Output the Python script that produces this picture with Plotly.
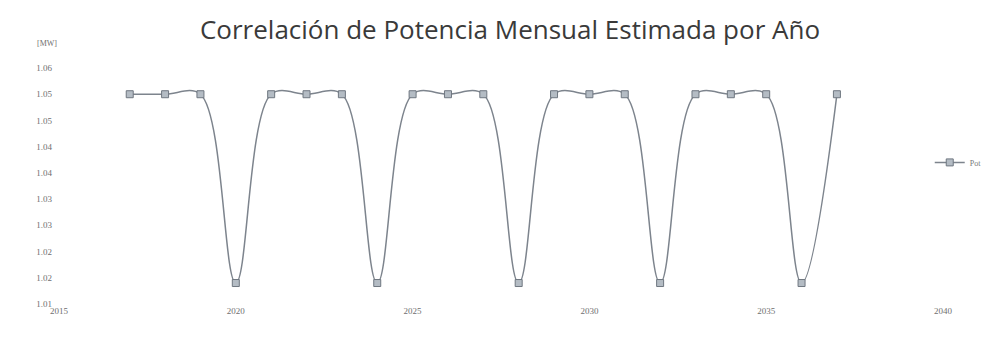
import plotly.graph_objects as go

years = list(range(2017, 2038))
power_mw = [1.055, 1.055, 1.055, 1.019,
            1.055, 1.055, 1.055, 1.019,
            1.055, 1.055, 1.055, 1.019,
            1.055, 1.055, 1.055, 1.019,
            1.055, 1.055, 1.055, 1.019,
            1.055]
series_name = "Pot"
y_tick_vals = [1.015, 1.02, 1.025, 1.03, 1.035, 1.04, 1.045, 1.05, 1.055, 1.06]
y_tick_text = ["1.01", "1.02", "1.02", "1.03", "1.03", "1.04", "1.04", "1.05", "1.05", "1.06"]
x_tick_vals = [2015, 2020, 2025, 2030, 2035, 2040]
title_text = "Correlación de Potencia Mensual Estimada por Año"
y_unit = "[MW]"

fig = go.Figure()
fig.add_trace(go.Scatter(
    x=years, y=power_mw, name=series_name,
    mode="lines+markers",
    line=dict(color="#7d848d", width=1.5, shape="spline", smoothing=1.0),
    marker=dict(symbol="square", size=7, color="#b4bcc4",
                line=dict(color="#6f7780", width=1)),
))

fig.update_layout(
    width=1001, height=344,
    margin=dict(l=51, r=66, t=60, b=48, autoexpand=False),
    paper_bgcolor="white", plot_bgcolor="white",
    title=dict(text=title_text, x=(510 - 8) / 1001, xanchor="center",
               y=1 - 22 / 344, yanchor="middle",
               font=dict(family="Open Sans", size=26, color="#3a3a3a")),
    showlegend=True,
    legend=dict(x=0.985, xanchor="left", y=0.6, yanchor="middle",
                bgcolor="rgba(0,0,0,0)",
                font=dict(family="Liberation Serif", size=8, color="#777777")),
    xaxis=dict(range=[2015, 2040], tickvals=x_tick_vals, showgrid=False,
               zeroline=False, showline=False, ticks="",
               tickfont=dict(family="Liberation Serif", size=9, color="#6f6f6f")),
    yaxis=dict(range=[1.015, 1.06], tickvals=y_tick_vals, ticktext=y_tick_text,
               showgrid=False, zeroline=False, showline=False, ticks="",
               ticklabelstandoff=6,
               tickfont=dict(family="Liberation Serif", size=9, color="#6f6f6f")),
    annotations=[dict(text=y_unit, xref="paper", yref="paper",
                      x=(47 - 59) / 884, y=(304 - 43) / 236, showarrow=False,
                      xanchor="center", yanchor="middle",
                      font=dict(family="Liberation Serif", size=8, color="#6f6f6f"))],
)

fig.write_html("out.html")
